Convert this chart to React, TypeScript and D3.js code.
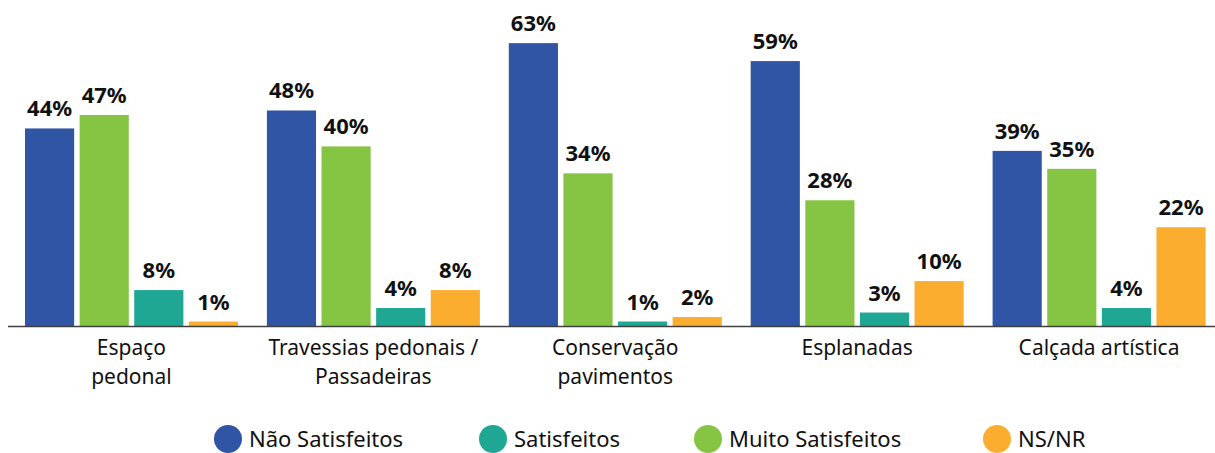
import { useEffect, useRef } from 'react';
import * as d3 from 'd3';

const categories = [
  ['Espaço', 'pedonal'],
  ['Travessias pedonais /', 'Passadeiras'],
  ['Conservação', 'pavimentos'],
  ['Esplanadas'],
  ['Calçada artística'],
];
const naoSatisfeitos = [44, 48, 63, 59, 39];
const muitoSatisfeitos = [47, 40, 34, 28, 35];
const satisfeitos = [8, 4, 1, 3, 4];
const nsnr = [1, 8, 2, 10, 22];

// draw order inside a group vs legend order differ
const barSeries = [
  { name: 'Não Satisfeitos', values: naoSatisfeitos, color: '#2F55A4' },
  { name: 'Muito Satisfeitos', values: muitoSatisfeitos, color: '#86C443' },
  { name: 'Satisfeitos', values: satisfeitos, color: '#1FA794' },
  { name: 'NS/NR', values: nsnr, color: '#FBAD30' },
];
const legendOrder = ['Não Satisfeitos', 'Satisfeitos', 'Muito Satisfeitos', 'NS/NR'];
const legendX = [228, 493, 708, 997];

const W = 1215;
const H = 453;
const FONT = '"Noto Sans", "Open Sans", sans-serif';

export default function App() {
  const svgRef = useRef<SVGSVGElement>(null);

  useEffect(() => {
    if (!svgRef.current) return;
    const svg = d3.select(svgRef.current);
    svg.selectAll('*').remove();

    const baseline = 326;
    const x0 = d3
      .scaleBand<number>()
      .domain(d3.range(categories.length))
      .range([10.5, 1220]);
    const x1 = d3
      .scaleBand<number>()
      .domain(d3.range(barSeries.length))
      .range([14.5, 227.5])
      .paddingInner(0.1);
    const y = d3.scaleLinear().domain([0, 70]).range([baseline, baseline - 70 * 4.49]);

    const groups = svg
      .selectAll('g.grp')
      .data(categories)
      .enter()
      .append('g')
      .attr('class', 'grp')
      .attr('transform', (_, i) => `translate(${x0(i)},0)`);

    groups.each(function (_, ci) {
      const g = d3.select(this);
      barSeries.forEach((s, si) => {
        const v = s.values[ci];
        g.append('rect')
          .attr('x', x1(si)!)
          .attr('y', y(v))
          .attr('width', x1.bandwidth())
          .attr('height', baseline - y(v))
          .attr('fill', s.color);
        g.append('text')
          .attr('x', x1(si)! + x1.bandwidth() / 2)
          .attr('y', y(v) - 12)
          .attr('text-anchor', 'middle')
          .attr('font-family', FONT)
          .attr('font-weight', 'bold')
          .attr('font-size', '22px')
          .attr('fill', '#111')
          .text(`${v}%`);
      });
    });

    // axis line
    svg.append('line')
      .attr('x1', 8)
      .attr('x2', W)
      .attr('y1', baseline + 0.5)
      .attr('y2', baseline + 0.5)
      .attr('stroke', '#404040')
      .attr('stroke-width', 1.5);

    // category labels
    categories.forEach((lines, i) => {
      const cx = x0(i)! + x0.bandwidth() / 2;
      lines.forEach((t, li) => {
        svg.append('text')
          .attr('x', cx)
          .attr('y', 355 + li * 29)
          .attr('text-anchor', 'middle')
          .attr('font-family', FONT)
          .attr('font-size', '21px')
          .attr('fill', '#111')
          .text(t);
      });
    });

    // legend
    legendOrder.forEach((name, i) => {
      const s = barSeries.find((b) => b.name === name)!;
      svg.append('circle')
        .attr('cx', legendX[i])
        .attr('cy', 439)
        .attr('r', 14)
        .attr('fill', s.color);
      svg.append('text')
        .attr('x', legendX[i] + 21)
        .attr('y', 447)
        .attr('font-family', FONT)
        .attr('font-size', '22px')
        .attr('fill', '#111')
        .text(name);
    });
  }, []);

  return <svg ref={svgRef} width={W} height={H} style={{ display: 'block', position: 'absolute', left: 0, top: 0 }} />;
}
